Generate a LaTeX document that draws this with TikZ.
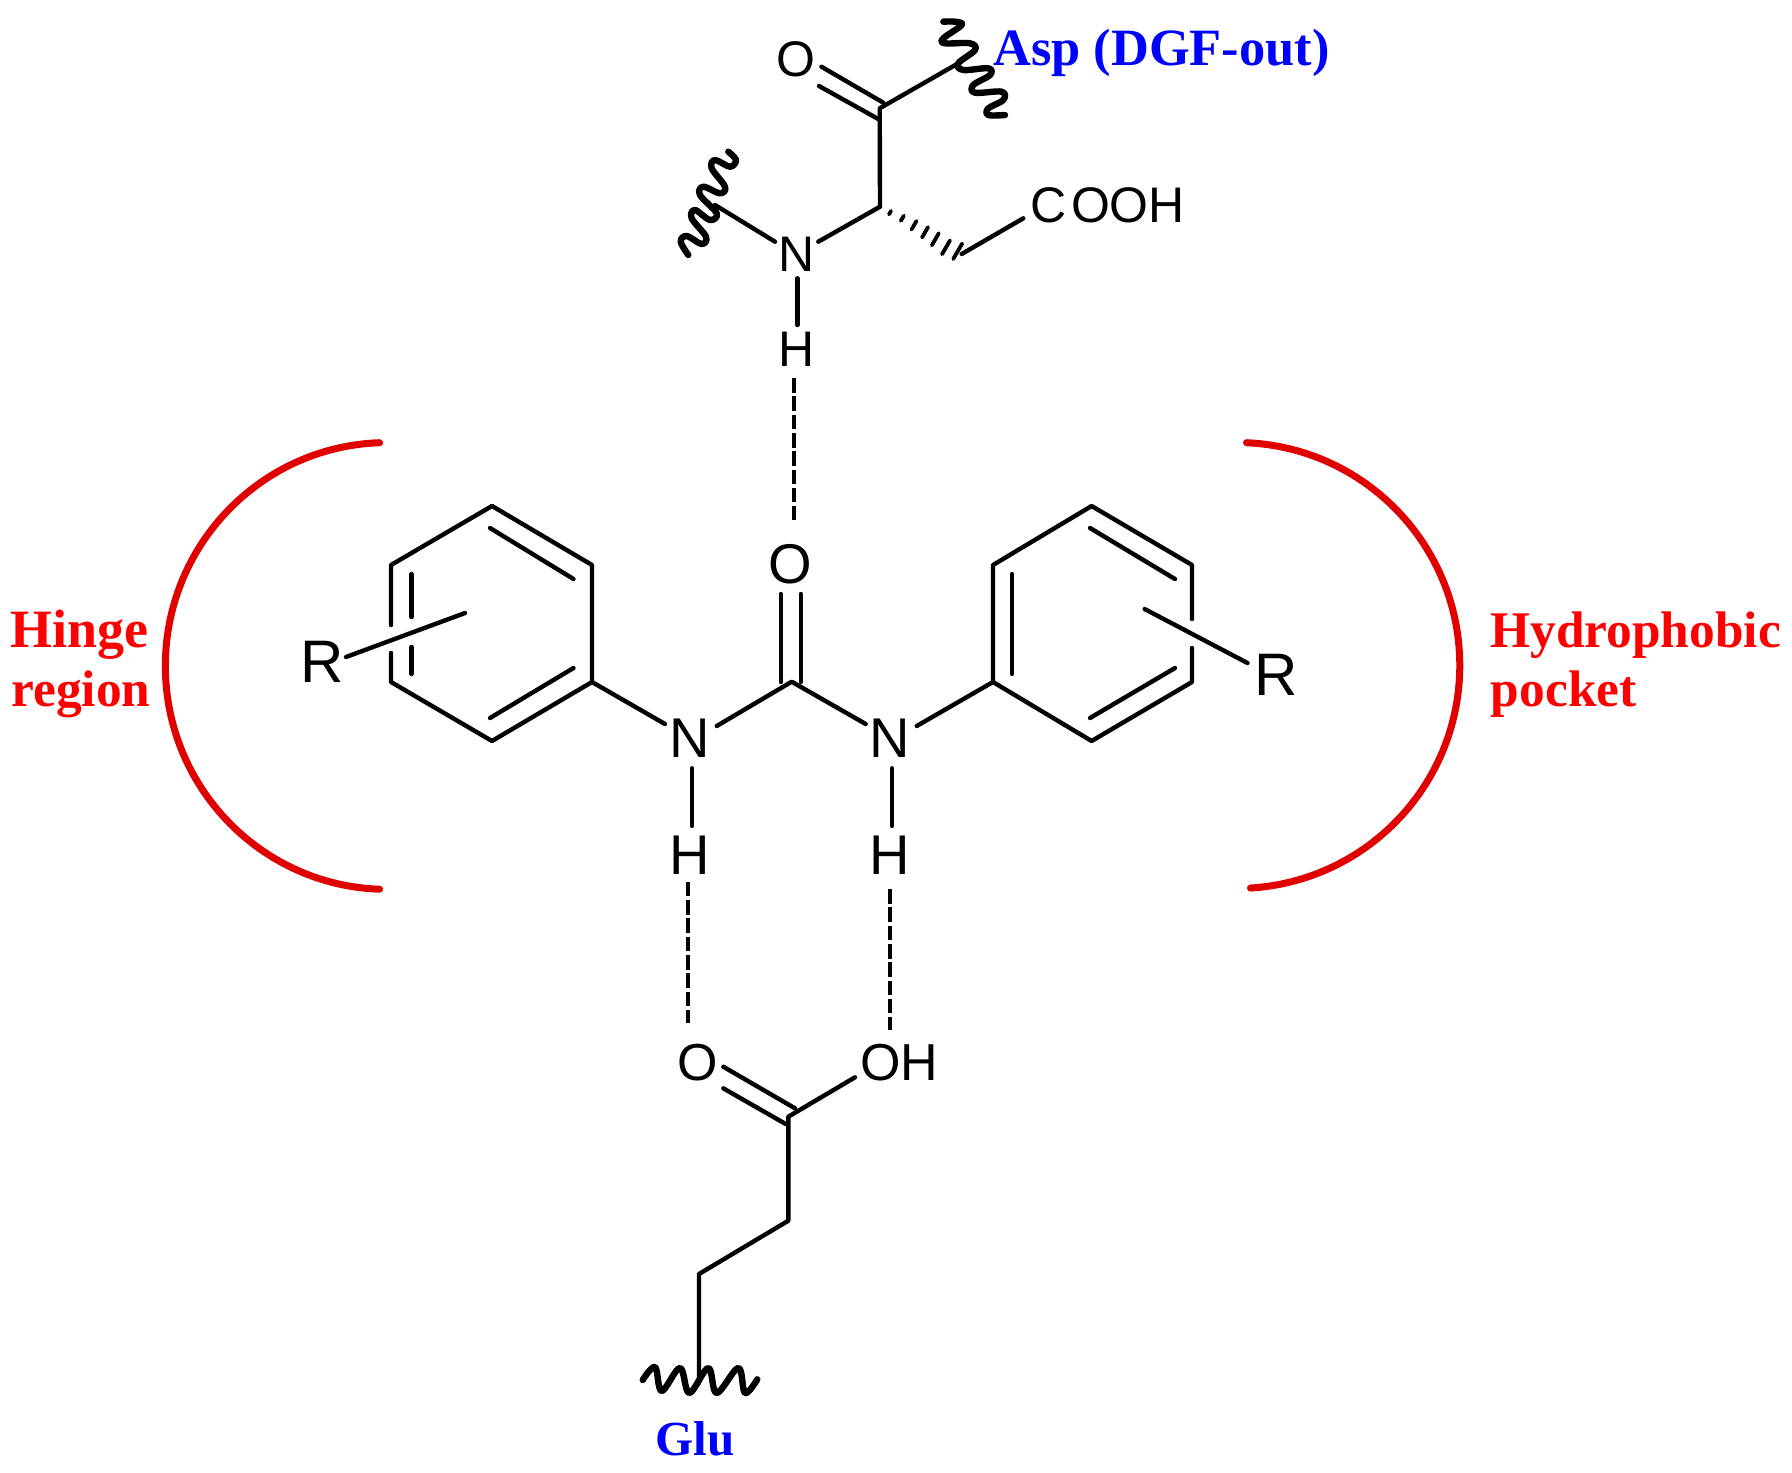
\documentclass[tikz,border=0pt]{standalone}
\usepackage{fontspec}
\setmainfont{Liberation Sans}
\newfontfamily\lsf{Liberation Serif}
\tikzset{
  x=0.5pt,y=-0.5pt,
  bond/.style={line width=2.2pt,line cap=round,line join=round,black},
  hbond/.style={line width=2pt,black,dash pattern=on 7.3pt off 1.85pt},
  wig/.style={line width=3.2pt,line cap=round,line join=round,black},
  hash/.style={line width=1.9pt,line cap=round,black},
  pocket/.style={line width=3.5pt,line cap=round,color={rgb,255:red,224;green,0;blue,0}},
  atomL/.style={inner sep=0pt,font=\fontsize{28}{28}\selectfont},
  atomM/.style={inner sep=0pt,font=\fontsize{26}{26}\selectfont},
  atomS/.style={inner sep=0pt,font=\fontsize{25}{25}\selectfont},
  atomR/.style={inner sep=0pt,font=\fontsize{30}{30}\selectfont},
  tagred/.style={inner sep=0pt,anchor=base west,text=red,font=\lsf\bfseries\fontsize{25.7}{27}\selectfont},
  tagblue/.style={inner sep=0pt,anchor=base west,text=blue,font=\lsf\bfseries\fontsize{26.2}{27}\selectfont},
}
\begin{document}
\begin{tikzpicture}
\useasboundingbox (0,0) rectangle (1792,1472);
\fill[white] (0,0) rectangle (1792,1472);

% ---------- atoms ----------
\node[atomL] (Ourea) at (790,564) {O};
\node[atomL] (Nl) at (690,738.5) {N};
\node[atomL] (Nr) at (890,738.5) {N};
\node[atomL] (Hl) at (690,855) {H};
\node[atomL] (Hr) at (890,855) {H};
\node[atomR] (Rl) at (322,662) {R};
\node[atomR] (Rr) at (1276,675) {R};
\node[atomM] (Oglu) at (697.3,1062.5) {O};
\node[atomM] (OHglu) at (899,1062.5) {OH};
\node[atomS] (Oasp) at (796,59) {O};
\node[atomS] (Nasp) at (796.7,254.5) {N};
\node[atomS] (Hasp) at (796.7,349.5) {H};
\node[atomS,anchor=base west] (COOH) at (1030.5,222.5) {C\kern2pt OOH};

% ---------- labels ----------
\node[tagred,font=\lsf\bfseries\fontsize{27}{27}\selectfont] (hinge) at (10,647.7) {Hinge};
\node[tagred] (regio) at (11,706.7) {region};
\node[tagred] (hydro) at (1490,647.7) {Hydrophobic};
\node[tagred] (pockt) at (1490.5,706.7) {pocket};
\node[tagblue] (asp) at (993,65) {Asp (DGF-out)};
\node[tagblue,font=\lsf\bfseries\fontsize{24.5}{27}\selectfont] (glu) at (655,1455) {Glu};

% ---------- pockets ----------
\draw[pocket] (379.6,442.7) arc[start angle=268,end angle=92,x radius=222,y radius=223.4];
\draw[pocket] (1246.5,442.7) arc[start angle=-87.5,end angle=86.5,radius=223];

% ---------- left ring ----------
\coordinate (a1) at (492,506);
\coordinate (a2) at (592,565);
\coordinate (a3) at (592,682);
\coordinate (a4) at (492,741);
\coordinate (a5) at (391,682);
\coordinate (a6) at (391,565);
\draw[bond] (391,625) -- (a6) -- (a1) -- (a2) -- (a3) -- (a4) -- (a5) -- (391,653);
\draw[bond] (490,528) -- (573.5,579);
\draw[bond] (573.5,668) -- (490,718);
\draw[bond] (411.5,574) -- (411.5,617);
\draw[bond] (411.5,647) -- (411.5,674);
\draw[bond] (346,657) -- (465,613);

% ---------- right ring ----------
\coordinate (b1) at (1091.6,506);
\coordinate (b2) at (1192,565);
\coordinate (b3) at (1192,682);
\coordinate (b4) at (1091.6,741);
\coordinate (b5) at (993,682);
\coordinate (b6) at (993,565);
\draw[bond] (1192,619) -- (b2) -- (b1) -- (b6) -- (b5) -- (b4) -- (b3) -- (1192,648);
\draw[bond] (1090,528) -- (1175,579);
\draw[bond] (1175,668) -- (1090,718);
\draw[bond] (1012,574) -- (1012,674);
\draw[bond] (1144.6,609) -- (1247.5,663);

% ---------- urea ----------
\coordinate (Cu) at (791.7,681.7);
\draw[bond] (a3) -- (665,724);
\draw[bond] (716.7,726) -- (Cu) -- (865.7,724);
\draw[bond] (b5) -- (916.7,726);
\draw[bond] (780.7,594) -- (780.7,682);
\draw[bond] (800.7,594) -- (800.7,682);
\draw[bond] (691.7,768.3) -- (691.7,826);
\draw[bond] (892,768.3) -- (892,826);

% ---------- hydrogen bonds ----------
\draw[hbond] (794,378) -- (794,520);
\draw[hbond] (688.3,881.7) -- (688.3,1022.7);
\draw[hbond] (890,889) -- (890,1030);

% ---------- Glu ----------
\coordinate (Cg) at (788.3,1116.7);
\coordinate (Cg2) at (788.3,1220.7);
\coordinate (Cg3) at (699,1274);
\coordinate (Cg4) at (699,1383);
\draw[bond] (855,1077.3) -- (Cg) -- (Cg2) -- (Cg3) -- (Cg4);
\draw[bond] (723.3,1066.7) -- (795,1108.3);
\draw[bond] (723.3,1088.3) -- (785.7,1124);
\draw[wig] plot[smooth,tension=0.6] coordinates {(642.7,1380) (655,1367) (661.7,1391) (680,1368) (689.3,1393) (708.3,1368) (716.7,1393) (738.3,1368) (745,1393) (757.3,1379.3)};

% ---------- Asp ----------
\coordinate (Ca) at (880,206.7);
\coordinate (Cc) at (879.7,108.3);
\coordinate (Cb) at (961.7,254);
\coordinate (Wa) at (958.3,63.3);
\coordinate (Wb) at (715,205);
\draw[bond] (Ca) -- (Cc) -- (Wa);
\draw[bond] (818.3,241.7) -- (Ca);
\draw[bond] (775,241.7) -- (Wb);
\draw[bond] (Cb) -- (1023.3,218.3);
\draw[bond] (821.4,66.7) -- (883.3,102.7);
\draw[bond] (819,86) -- (878.8,119.3);
\draw[bond] (797.3,278.3) -- (797.3,325);
\draw[hash] (889,214.4) -- (891,211);
\draw[hash] (900.8,220.9) -- (903.8,215.7);
\draw[hash] (911.5,229.6) -- (916.5,220.9);
\draw[hash] (922,237.5) -- (928,227.1);
\draw[hash] (931.8,245.4) -- (938.8,233.2);
\draw[hash] (942,254.3) -- (950,240.4);
\draw[hash] (953.2,259) -- (962.2,243.5);
\draw[wig] plot[smooth,tension=0.6] coordinates {(688.3,255) (680.7,241.7) (686.7,236) (701.7,244) (706,236.7) (691.7,218.3) (695,210) (710,220) (716.7,213.3) (700,195) (703.3,186.7) (720,193.3) (725,186.7) (711.7,168.3) (715,160) (730,166.7) (736,160) (728.3,151.7)};
\draw[wig] plot[smooth,tension=0.6] coordinates {(943.3,21.7) (955,21.7) (961.7,25) (943.3,38.3) (945,43.3) (970,43.3) (975,50) (958.3,63.3) (963.3,70) (988.3,68.3) (990,75) (973.3,85) (975,92.7) (1001.7,91.7) (1003.3,100) (988.3,108.3) (988.3,115) (1005,115)};
\end{tikzpicture}
\end{document}
